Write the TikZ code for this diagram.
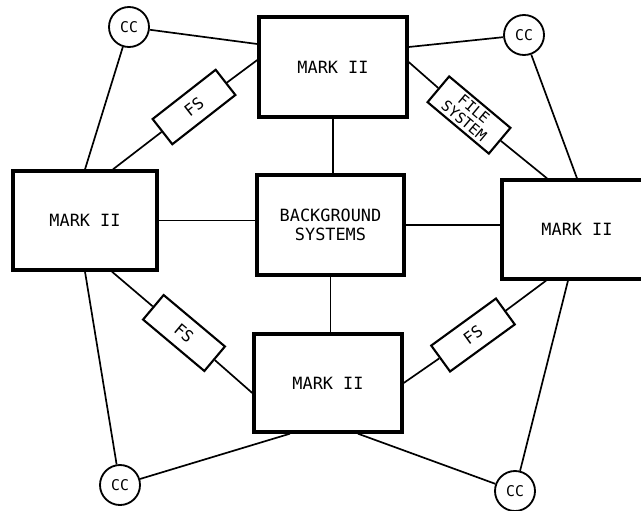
\documentclass[tikz,border=0pt]{standalone}
\usepackage{fontspec}
\setmonofont{DejaVu Sans Mono}
\usepackage{tikz}
\usetikzlibrary{calc}

\begin{document}
\begin{tikzpicture}[
    font=\ttfamily\fontsize{12}{13.5}\selectfont,
    markbox/.style={draw, line width=2.4pt, minimum width=37mm,
                    minimum height=25mm, inner sep=1pt},
    hubbox/.style={markbox, line width=2.2pt, align=center},
    ccnode/.style={draw, circle, line width=1.3pt, minimum size=10mm,
                   inner sep=0pt, font=\ttfamily\fontsize{10.5}{12}\selectfont},
    fsbox/.style={draw, line width=1.5pt, fill=white, minimum width=20mm,
                  minimum height=8mm, inner sep=1pt, align=center,
                  font=\ttfamily\fontsize{11.5}{12}\selectfont},
    wire/.style={line width=1.2pt},
]
\useasboundingbox (0,0) rectangle (16.025,-12.75);
\clip (0,0) rectangle (16.025,-12.75);

% =====================================================================
% MARK II machines round the background systems
% =====================================================================
\node[markbox] (mtop) at (8.325,-1.675) {MARK II};
\node[markbox, minimum width=36mm, minimum height=24.75mm] (mleft) at (2.125,-5.5125) {MARK II};
\node[hubbox, minimum width=36.75mm] (bg) at (8.2625,-5.625) {BACKGROUND\\SYSTEMS};
\node[markbox, minimum width=37.5mm, minimum height=24.75mm] (mright) at (14.425,-5.7375) {MARK II};
\node[markbox, minimum height=24.5mm] (mbot) at (8.2,-9.575) {MARK II};

% communication controllers
\node[ccnode] (cctl) at (3.225,-0.675) {CC};
\node[ccnode] (cctr) at (13.1,-0.875) {CC};
\node[ccnode] (ccbl) at (3.0,-12.125) {CC};
\node[ccnode] (ccbr) at (12.875,-12.275) {CC};

% file systems (tilted along their links)
\node[fsbox, rotate=38] (fstl) at (4.85,-2.675) {FS};
\node[fsbox, rotate=-40, minimum height=8.4mm, inner sep=0pt,
      font=\ttfamily\fontsize{10.5}{11}\selectfont] (fstr) at (11.725,-2.875) {FILE\\SYSTEM};
\node[fsbox, rotate=-40] (fsbl) at (4.6,-8.325) {FS};
\node[fsbox, rotate=36] (fsbr) at (11.825,-8.375) {FS};

% =====================================================================
% links
% =====================================================================
% CC links
\draw[wire] (cctl) -- ($(mtop.west)+(0,0.575)$);
\draw[wire] (cctl) -- (mleft.north);
\draw[wire] (cctr) -- ($(mtop.east)+(0,0.5)$);
\draw[wire] (cctr) -- (mright.north);
\draw[wire] (ccbl) -- (mleft.south);
\draw[wire] (ccbl) -- ($(mbot.south)+(-0.95,0)$);
\draw[wire] (ccbr) -- ($(mbot.south)+(0.75,0)$);
\draw[wire] (ccbr) -- ($(mright.south)+(-0.225,0)$);

% file system links
\draw[wire] ($(mleft.north)+(0.7,0)$) -- (fstl) -- ($(mtop.west)+(0,0.175)$);
\draw[wire] ($(mtop.east)+(0,0.125)$) -- (fstr) -- ($(mright.north)+(-0.75,0)$);
\draw[wire] ($(mleft.south)+(0.675,0)$) -- (fsbl) -- ($(mbot.west)+(0,-0.25)$);
\draw[wire] (mbot.east) -- (fsbr) -- ($(mright.south)+(-0.775,0)$);

% background links
\draw[wire] (mtop.south) -- (mtop.south |- bg.north);
\draw[wire] (mleft.east) -- (mleft.east -| bg.west);
\draw[wire] (bg.east) -- (bg.east -| mright.west);
\draw[wire] (bg.south) -- (bg.south |- mbot.north);

\end{tikzpicture}
\end{document}
